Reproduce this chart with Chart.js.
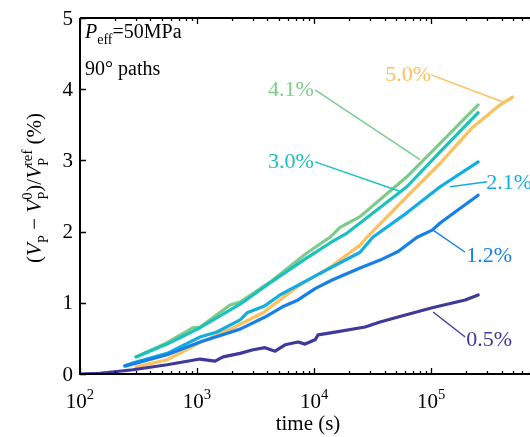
<!DOCTYPE html>
<html>
<head>
<meta charset="utf-8">
<script src="https://cdn.jsdelivr.net/npm/chart.js@4.4.1/dist/chart.umd.min.js"></script>
<style>
  html, body { margin: 0; padding: 0; background: #fff; }
</style>
</head>
<body>
<canvas id="chart" width="530" height="437"></canvas>
<script>
// =============================
// DATA (time in s, dVp/Vp in %)
// =============================

const xMajorTicks = [1e2, 1e3, 1e4, 1e5];
const yTicks = [0, 1, 2, 3, 4, 5];

const t05 = [100, 148, 284, 555, 1061, 1426, 1668, 2333, 3013, 3811, 4645, 5649, 7297, 8375, 10200, 10820, 14260, 27290, 36650, 52240, 102100, 195400, 252400];
const v05 = [0, 0.01, 0.06, 0.13, 0.21, 0.18, 0.24, 0.29, 0.34, 0.37, 0.32, 0.41, 0.45, 0.42, 0.48, 0.55, 0.58, 0.66, 0.73, 0.80, 0.93, 1.04, 1.11];

const t12 = [242, 555, 1061, 2333, 3811, 5322, 7297, 10200, 14260, 24720, 36650, 52240, 75860, 102100, 119400, 175000, 252400];
const v12 = [0.11, 0.27, 0.45, 0.63, 0.80, 0.94, 1.04, 1.20, 1.32, 1.49, 1.60, 1.72, 1.92, 2.02, 2.12, 2.32, 2.51];

const t21 = [242, 306, 555, 1061, 1478, 2333, 2677, 3811, 5110, 9800, 24720, 31720, 61660, 119400, 252400];
const v21 = [0.12, 0.17, 0.29, 0.52, 0.59, 0.76, 0.86, 0.96, 1.11, 1.36, 1.71, 1.92, 2.26, 2.63, 2.98];

const t30 = [301, 555, 1061, 2333, 4198, 8680, 13680, 19130, 24720, 62020, 119400, 252400];
const v30 = [0.24, 0.42, 0.65, 0.98, 1.28, 1.63, 1.84, 1.98, 2.12, 2.63, 3.12, 3.67];

const t41 = [301, 555, 925, 1061, 1916, 2333, 4198, 8680, 13680, 16670, 24720, 62020, 119400, 252400];
const v41 = [0.24, 0.44, 0.65, 0.66, 0.97, 1.01, 1.29, 1.70, 1.92, 2.06, 2.21, 2.77, 3.24, 3.78];

const t50 = [301, 555, 1061, 2036, 3656, 7146, 13680, 24720, 28260, 62020, 119400, 228000, 389000, 496000];
const v50 = [0.10, 0.20, 0.44, 0.65, 0.86, 1.22, 1.50, 1.81, 1.92, 2.49, 2.96, 3.47, 3.78, 3.89];

const seriesNames = ['0.5%', '1.2%', '2.1%', '3.0%', '4.1%', '5.0%'];
const seriesColors = ['#3d3a9b', '#1780e8', '#12ade2', '#1cc1bf', '#7dcb8b', '#fdc05c'];
const seriesTimes = [t05, t12, t21, t30, t41, t50];
const seriesValues = [v05, v12, v21, v30, v41, v50];


// =============================
// LABELS WITH LEADER LINES (data coords)
// =============================

const leaders = [
  { text: '0.5%', at: [313300, 0.48], from: [104000, 0.87], to: [195400, 0.52] },
  { text: '1.2%', at: [313300, 1.66], from: [104000, 2.02], to: [195400, 1.71] },
  { text: '2.1%', at: [464400, 2.68], from: [145200, 2.63], to: [301300, 2.70] },
  { text: '3.0%', at: [6353, 2.98], from: [10200, 2.98], to: [53200, 2.57] },
  { text: '4.1%', at: [6353, 3.99], from: [10200, 3.99], to: [80540, 3.01] },
  { text: '5.0%', at: [63530, 4.20], from: [100000, 4.20], to: [428300, 3.81] }
];

const SERIF = '"Liberation Serif", "Times New Roman", serif';


// =============================
// RICH TEXT (sub / superscripts)
// =============================

function runWidth(ctx, run, size) {
  const small = size * 0.7;
  if (run.stack) {
    ctx.font = small + 'px ' + SERIF;
    return Math.max(ctx.measureText(run.sub).width, ctx.measureText(run.sup).width);
  }
  const s = (run.sub || run.sup) ? small : size;
  ctx.font = (run.it ? 'italic ' : '') + s + 'px ' + SERIF;
  return ctx.measureText(run.t).width;
}

function drawRich(ctx, runs, x, y, size, align) {
  let total = 0;
  runs.forEach(r => total += runWidth(ctx, r, size));
  let cx = align === 'center' ? x - total / 2 : x;
  const small = size * 0.7;
  ctx.textAlign = 'left';
  ctx.textBaseline = 'alphabetic';
  runs.forEach(r => {
    const w = runWidth(ctx, r, size);
    if (r.stack) {
      ctx.font = small + 'px ' + SERIF;
      ctx.fillText(r.sub, cx, y + size * 0.32);
      ctx.fillText(r.sup, cx, y - size * 0.42);
    } else if (r.sub) {
      ctx.font = small + 'px ' + SERIF;
      ctx.fillText(r.t, cx, y + size * 0.32);
    } else if (r.sup) {
      ctx.font = small + 'px ' + SERIF;
      ctx.fillText(r.t, cx, y - size * 0.42);
    } else {
      ctx.font = (r.it ? 'italic ' : '') + size + 'px ' + SERIF;
      ctx.fillText(r.t, cx, y);
    }
    cx += w;
  });
}


// =============================
// AXES + ANNOTATIONS PLUGIN
// =============================

const framePlugin = {
  id: 'frame',
  afterDatasetsDraw(chart) {
    const ctx = chart.ctx;
    const a = chart.chartArea;
    const xs = chart.scales.x;
    const ys = chart.scales.y;

    ctx.save();

    // leader lines + labels
    leaders.forEach((l, i) => {
      const col = seriesColors[i];
      ctx.strokeStyle = col;
      ctx.lineWidth = 1.4;
      ctx.beginPath();
      ctx.moveTo(xs.getPixelForValue(l.from[0]), ys.getPixelForValue(l.from[1]));
      ctx.lineTo(xs.getPixelForValue(l.to[0]), ys.getPixelForValue(l.to[1]));
      ctx.stroke();
      ctx.fillStyle = col;
      ctx.font = '22px ' + SERIF;
      ctx.textAlign = 'center';
      ctx.textBaseline = 'middle';
      ctx.fillText(l.text, xs.getPixelForValue(l.at[0]), ys.getPixelForValue(l.at[1]));
    });

    // axis lines
    ctx.strokeStyle = '#000';
    ctx.lineWidth = 2;
    ctx.beginPath();
    ctx.moveTo(a.left, a.top);
    ctx.lineTo(a.right, a.top);
    ctx.moveTo(a.left, a.top);
    ctx.lineTo(a.left, a.bottom);
    ctx.lineTo(a.right, a.bottom);
    ctx.stroke();

    // x ticks (log, inward, mirrored on top)
    ctx.lineWidth = 1.3;
    ctx.beginPath();
    for (let dec = 100; dec <= xs.max; dec *= 10) {
      for (let m = 1; m <= 9; m++) {
        const v = dec * m;
        if (v > xs.max) break;
        const px = Math.round(xs.getPixelForValue(v)) + 0.5;
        const len = m === 1 ? 6 : 3;
        ctx.moveTo(px, a.bottom);
        ctx.lineTo(px, a.bottom - len);
        ctx.moveTo(px, a.top);
        ctx.lineTo(px, a.top + len);
      }
    }
    // y ticks
    yTicks.forEach(v => {
      const py = Math.round(ys.getPixelForValue(v)) + 0.5;
      ctx.moveTo(a.left, py);
      ctx.lineTo(a.left + 6, py);
    });
    ctx.stroke();

    // tick labels
    ctx.fillStyle = '#000';
    xMajorTicks.forEach(v => {
      const exp = String(Math.round(Math.log10(v)));
      drawRich(ctx, [{ t: '10' }, { t: exp, sup: true }], xs.getPixelForValue(v), 408, 21, 'center');
    });
    ctx.font = '21px ' + SERIF;
    ctx.textAlign = 'right';
    ctx.textBaseline = 'middle';
    yTicks.forEach(v => {
      ctx.fillText(String(v), a.left - 7, ys.getPixelForValue(v) + 1);
    });

    // x title
    ctx.font = '21px ' + SERIF;
    ctx.textAlign = 'center';
    ctx.textBaseline = 'alphabetic';
    ctx.fillText('time (s)', (a.left + a.right) / 2 + 3, 430);

    // y title
    ctx.save();
    ctx.translate(41, (a.top + a.bottom) / 2 - 8);
    ctx.rotate(-Math.PI / 2);
    drawRich(ctx, [
      { t: '(' }, { t: 'V', it: true }, { t: 'P', sub: true },
      { t: ' \u2212 ' }, { t: 'V', it: true }, { stack: true, sub: 'P', sup: '0' },
      { t: ')/' }, { t: 'V', it: true }, { stack: true, sub: 'P', sup: 'ref' },
      { t: ' (%)' }
    ], 0, 0, 21, 'center');
    ctx.restore();

    // condition note
    drawRich(ctx, [{ t: 'P', it: true }, { t: 'eff', sub: true }, { t: '=50MPa' }], 85, 38, 20, 'left');
    ctx.font = '20px ' + SERIF;
    ctx.textAlign = 'left';
    ctx.fillText('90\u00b0 paths', 85, 75);

    ctx.restore();
  }
};


// =============================
// CHART
// =============================

const datasets = seriesNames.map((name, i) => ({
  label: name,
  data: seriesTimes[i].map((t, k) => ({ x: t, y: seriesValues[i][k] })),
  borderColor: seriesColors[i],
  backgroundColor: seriesColors[i],
  borderWidth: 3.2,
  borderJoinStyle: 'round',
  borderCapStyle: 'round',
  pointRadius: 0,
  tension: 0,
  fill: false
}));

new Chart(document.getElementById('chart'), {
  type: 'line',
  data: { datasets: datasets },
  options: {
    responsive: false,
    animation: false,
    devicePixelRatio: 1,
    layout: { padding: { left: 80, top: 18, right: 0, bottom: 63 } },
    plugins: {
      legend: { display: false },
      tooltip: { enabled: false }
    },
    scales: {
      x: { type: 'logarithmic', min: 100, max: 700000, display: false },
      y: { type: 'linear', min: 0, max: 5, display: false }
    }
  },
  plugins: [framePlugin]
});
</script>
</body>
</html>
